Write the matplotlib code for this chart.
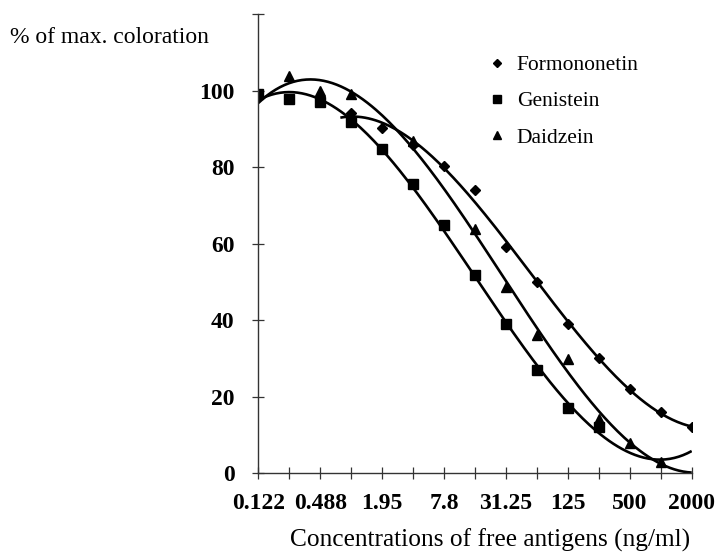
import numpy as np
import matplotlib.pyplot as plt
from matplotlib.lines import Line2D

# concentrations of free antigens (ng/ml)
conc = [0.122, 0.244, 0.488, 0.976, 1.95, 3.9, 7.8, 15.6, 31.25, 62.5, 125, 250, 500, 1000, 2000]
tick_labels = ["0.122", "", "0.488", "", "1.95", "", "7.8", "", "31.25", "", "125", "", "500", "", "2000"]

# % of max. coloration (nan = no point)
nan = np.nan
formononetin = [nan, nan, nan, 94.2, 90.2, 85.8, 80.2, 74.0, 59.0, 50.0, 39.1, 30.0, 21.9, 16.1, 12.0]
genistein = [99.1, 97.8, 96.9, 91.9, 84.8, 75.7, 64.8, 51.7, 39.0, 27.0, 17.0, 12.0, nan, nan, nan]
daidzein = [nan, 103.9, 99.8, 99.1, nan, 86.9, nan, 63.8, 48.7, 36.1, 29.8, 14.1, 7.9, 3.0, nan]

plt.rcParams['font.family'] = ['Liberation Serif', 'DejaVu Serif']

fig = plt.figure(figsize=(7.15, 5.54), dpi=100)
ax = fig.add_axes([0.3613, 0.1457, 0.6061, 0.829])

conc = np.array(conc)
pos = np.log2(conc / conc[0])


def trend(y, deg, start):
    # polynomial trendline (like the spreadsheet one), in log2 space
    y = np.array(y, dtype=float)
    ok = ~np.isnan(y)
    p = np.polyfit(pos[ok], y[ok], deg)
    t = np.linspace(start, pos[-1], 200)
    return conc[0] * 2 ** t, np.polyval(p, t)


series = [
    ("Formononetin", formononetin, "D", 5.5, 2.65),
    ("Genistein", genistein, "s", 7, 0.0),
    ("Daidzein", daidzein, "^", 7, 0.0),
]

for name, vals, mk, ms, start in series:
    xs, ys = trend(vals, 3, start)
    ax.plot(xs, ys, color="black", lw=1.9, solid_capstyle="butt")
    ax.plot(conc, vals, linestyle="none", marker=mk, ms=ms, color="black", label=name)

ax.set_xscale("log", base=2)
ax.set_xlim(conc[0], conc[-1])
ax.set_ylim(0, 120)
ax.set_xticks(conc)
ax.set_xticklabels(tick_labels)
ax.minorticks_off()
ax.set_yticks([0, 20, 40, 60, 80, 100, 120])
ax.set_yticklabels(["0", "20", "40", "60", "80", "100", ""])

for s in ["top", "right"]:
    ax.spines[s].set_visible(False)
for s in ["left", "bottom"]:
    ax.spines[s].set_linewidth(1.0)
    ax.spines[s].set_color("#333333")

ax.tick_params(axis="both", direction="inout", length=8, width=0.9, color="#333333",
               labelsize=17)
ax.tick_params(axis="x", pad=10)
ax.tick_params(axis="y", pad=13)
for lab in ax.get_xticklabels() + ax.get_yticklabels():
    lab.set_fontweight("bold")

fig.text(0.014, 0.932, "% of max. coloration", fontsize=17, ha="left", va="center")
fig.text(0.685, 0.025, "Concentrations of free antigens (ng/ml)", fontsize=18.3,
         ha="center", va="center")

handles = [Line2D([], [], linestyle="none", marker=mk, ms=ms * 0.8, color="black")
           for _, _, mk, ms, _ in series]
ax.legend(handles, [s[0] for s in series], loc="upper left",
          bbox_to_anchor=(0.67, 0.92), bbox_transform=fig.transFigure,
          frameon=False, fontsize=15.5, handlelength=0.7, handletextpad=0.55,
          labelspacing=0.75, borderpad=0)

fig.savefig("out.png", dpi=100)
